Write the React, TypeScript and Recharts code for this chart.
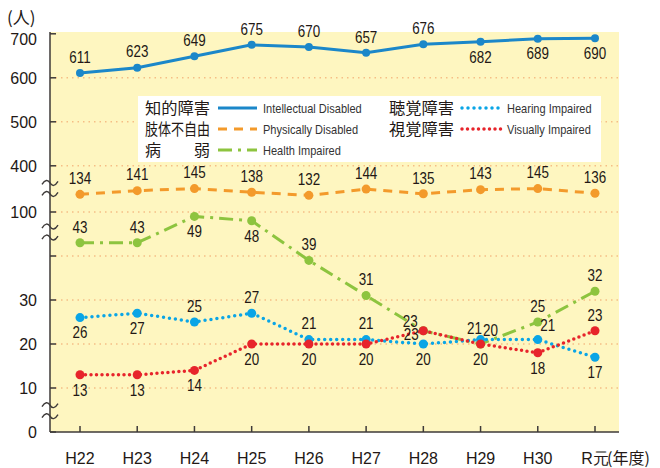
import React from 'react';
import { LineChart, Line, XAxis, YAxis, CartesianGrid, ReferenceLine } from 'recharts';

// ---- data ----
const years = ['H22', 'H23', 'H24', 'H25', 'H26', 'H27', 'H28', 'H29', 'H30', 'R元'];
const intellectual = [611, 623, 649, 675, 670, 657, 676, 682, 689, 690];
const physical = [134, 141, 145, 138, 132, 144, 135, 143, 145, 136];
const health = [43, 43, 49, 48, 39, 31, 23, 20, 25, 32];
const hearing = [26, 27, 25, 27, 21, 21, 20, 21, 21, 17];
const visual = [13, 13, 14, 20, 20, 20, 23, 20, 18, 23];

const lowTicks = [0, 10, 20, 30, 40];
const lowTickLabels = ['0', '10', '20', '30', ''];
const physTicks = [100];
const topTicks = [400, 500, 600, 700];
const yUnit = '(人)';
const xUnit = '(年度)';

const legendItems = [
  { key: 'intellectual', jp: '知的障害', en: 'Intellectual Disabled' },
  { key: 'physical', jp: '肢体不自由', en: 'Physically Disabled' },
  { key: 'health', jp: '病弱', en: 'Health Impaired' },
  { key: 'hearing', jp: '聴覚障害', en: 'Hearing Impaired' },
  { key: 'visual', jp: '視覚障害', en: 'Visually Impaired' },
];

// ---- styles / layout ----
const STYLE: Record<string, any> = {
  intellectual: { color: '#1B87C9', dash: undefined, width: 3, cap: 'butt', r: 4 },
  physical: { color: '#F39A2B', dash: '9 7', width: 3, cap: 'butt', r: 4.5 },
  health: { color: '#8DC43F', dash: '14 6 3 6', width: 3, cap: 'butt', r: 4.5 },
  hearing: { color: '#0AA5E6', dash: '0 6', width: 3.5, cap: 'round', r: 4.5 },
  visual: { color: '#E7242B', dash: '0 5.5', width: 3.5, cap: 'round', r: 4.5 },
};

const labelPos: Record<string, string[]> = {
  intellectual: ['t', 't', 't', 't', 't', 't', 't', 'b', 'b', 'b'],
  physical: ['t', 't', 't', 't', 't', 't', 't', 't', 't', 't'],
  health: ['t', 't', 'b', 'b', 't', 't', 'tl', 'tr', 't', 't'],
  hearing: ['b', 'b', 't', 't', 't', 't', 'b', 'tl2', 'tr', 'b'],
  visual: ['b', 'b', 'b', 'b', 'b', 'b', 'l', 'b', 'b', 't'],
};
const OFFSETS: Record<string, [number, number]> = {
  t: [0, -16],
  b: [0, 15],
  tl: [-13, -10],
  tl2: [-6, -11],
  tr: [10, -14],
  l: [-12, 3],
};

const W = 660;
const H = 468;
const PLOT_H = 400; // 32..432
const PX_PER_UNIT = 4.4; // low scale, px per unit
const LOW_MAX = PLOT_H / PX_PER_UNIT;
const TOP_ANCHOR = 60.5; // low-units position of 400 on top band
const PHYS_K = 0.52 / PX_PER_UNIT;
const topToLow = (v: number) => (v - 400) / 10 + TOP_ANCHOR;
const lowToTop = (l: number) => (l - TOP_ANCHOR) * 10 + 400;
const physToLow = (v: number) => 50 + (v - 100) * PHYS_K;
const lowToPhys = (l: number) => 100 + (l - 50) / PHYS_K;

const tickPos = [...lowTicks, ...physTicks.map(physToLow), ...topTicks.map(topToLow)];
const tickLab = [...lowTickLabels, ...physTicks.map(String), ...topTicks.map(String)];
const gridVals = tickPos.filter((p) => p > 0 && p < LOW_MAX - 1);
const breakVals = [55.35, 45.45, 4.85];

const rows = years.map((year, i) => ({
  year,
  intellectual: intellectual[i],
  physical: physical[i],
  health: health[i],
  hearing: hearing[i],
  visual: visual[i],
}));

const NUM_FONT = "'Liberation Sans', Arial, sans-serif";
const AX_FONT = "'Liberation Sans', Arial, sans-serif";
const JP_FONT = "'Noto Sans CJK JP', 'Noto Sans', sans-serif";
const TXT = '#231815';
const AXIS = '#3E3A39';

const NarrowText = ({ x, y, size, sx, anchor, fill, children }: any) => (
  <text
    transform={`translate(${x},${y}) scale(${sx},1)`}
    textAnchor={anchor}
    fontSize={size}
    fontFamily={NUM_FONT}
    fill={fill}
  >
    {children}
  </text>
);

const makeDot = (key: string) => (props: any) => {
  const { cx, cy, index, payload } = props;
  if (cx == null || cy == null) return <g key={`${key}-${index}`} />;
  const s = STYLE[key];
  const [dx, dy] = OFFSETS[labelPos[key][index]];
  return (
    <g key={`${key}-${index}`}>
      <circle cx={cx} cy={cy} r={s.r} fill={s.color} />
      <NarrowText x={cx + dx} y={cy + dy + 5.8} size={16} sx={0.84} anchor="middle" fill={TXT}>
        {payload[key]}
      </NarrowText>
    </g>
  );
};

const YTick = (props: any) => {
  const { x, y, payload } = props;
  const i = tickPos.findIndex((p) => Math.abs(p - payload.value) < 1e-6);
  const label = i >= 0 ? tickLab[i] : '';
  const nudge = i === tickPos.length - 1 ? 5 : 0;
  return (
    <g>
      <line x1={x} x2={x + 6} y1={y} y2={y} stroke={AXIS} strokeWidth={1.5} />
      <text x={x - 13} y={y + 5.8 + nudge} textAnchor="end" fontSize={16} fontFamily={AX_FONT} fill={TXT}>
        {label}
      </text>
    </g>
  );
};

const XTick = (props: any) => {
  const { x, y, payload, index } = props;
  const last = index === years.length - 1 || payload.value === years[years.length - 1];
  return (
    <g>
      <line x1={x} x2={x} y1={y} y2={y - 6} stroke={AXIS} strokeWidth={1.5} />
      <text x={x} y={y + 32} textAnchor="middle" fontSize={16} fontFamily={`${AX_FONT}`} fill={TXT}>
        {payload.value}
      </text>
      {last ? (
        <text x={x + 12} y={y + 32} textAnchor="start" fontSize={16} fontFamily={JP_FONT} fill={TXT}>
          {xUnit}
        </text>
      ) : null}
    </g>
  );
};

const BreakShape = (props: any) => {
  const { x1, y1 } = props;
  if (x1 == null || y1 == null) return <g />;
  const tilde = (yy: number) =>
    `M ${x1 - 8} ${yy + 1.5} C ${x1 - 5} ${yy - 3.5} ${x1 - 2} ${yy - 3.5} ${x1} ${yy} S ${x1 + 5} ${yy + 3.5} ${x1 + 8} ${yy - 1.5}`;
  return (
    <g>
      <path d={tilde(y1 - 5.5)} stroke={AXIS} strokeWidth={1.4} fill="none" />
      <path d={tilde(y1 + 5.5)} stroke={AXIS} strokeWidth={1.4} fill="none" />
    </g>
  );
};

const LegendSample = ({ k, x, y, w }: { k: string; x: number; y: number; w: number }) => {
  const s = STYLE[k];
  return (
    <line
      x1={x}
      x2={x + w}
      y1={y}
      y2={y}
      stroke={s.color}
      strokeWidth={s.width}
      strokeDasharray={s.dash}
      strokeLinecap={s.cap}
    />
  );
};

const Legend = () => {
  const cols = [145, 389];
  const rowsY = [108, 129, 150];
  return (
    <g>
      <rect x={138} y={96} width={463} height={66} fill="#FFFFFF" />
      {legendItems.map((it, i) => {
        const c = i < 3 ? 0 : 1;
        const r = i < 3 ? i : i - 3;
        const x = cols[c];
        const y = rowsY[r];
        const jp =
          it.jp.length === 2 ? (
            <g>
              <text x={x} y={y + 6} fontSize={16} fontFamily={JP_FONT} fill={TXT}>
                {it.jp[0]}
              </text>
              <text x={x + 65} y={y + 6} textAnchor="end" fontSize={16} fontFamily={JP_FONT} fill={TXT}>
                {it.jp[1]}
              </text>
            </g>
          ) : (
            <text
              x={x}
              y={y + 6}
              fontSize={16}
              fontFamily={JP_FONT}
              fill={TXT}
              textLength={65}
              lengthAdjust="spacingAndGlyphs"
            >
              {it.jp}
            </text>
          );
        return (
          <g key={it.key}>
            {jp}
            <LegendSample k={it.key} x={x + 73} y={y} w={c === 0 ? 39 : 42} />
            <NarrowText x={x + 118} y={y + 4.5} size={13} sx={0.85} anchor="start" fill="#333">
              {it.en}
            </NarrowText>
          </g>
        );
      })}
    </g>
  );
};

const seriesOrder = ['physical', 'intellectual', 'health', 'hearing', 'visual'];
const axisFor: Record<string, string> = {
  intellectual: 'top',
  physical: 'phys',
  health: 'low',
  hearing: 'low',
  visual: 'low',
};

export default function App() {
  return (
    <div style={{ position: 'absolute', left: 0, top: 0, width: W, height: H, background: '#fff' }}>
      <LineChart width={W} height={H} data={rows} margin={{ top: 32, right: 41, bottom: 0, left: 0 }}>
        <CartesianGrid horizontal={false} vertical={false} fill="#FEF6C0" yAxisId="low" />
        <XAxis
          dataKey="year"
          scale="point"
          padding={{ left: 30, right: 24 }}
          interval={0}
          tickSize={0}
          tickMargin={0}
          height={36}
          tick={<XTick />}
          tickLine={false}
          axisLine={{ stroke: AXIS, strokeWidth: 1.5 }}
        />
        <YAxis
          yAxisId="low"
          type="number"
          domain={[0, LOW_MAX]}
          ticks={tickPos}
          interval={0}
          width={50}
          tickSize={0}
          tickMargin={0}
          tick={<YTick />}
          tickLine={false}
          axisLine={{ stroke: AXIS, strokeWidth: 1.5 }}
        />
        <YAxis yAxisId="top" hide type="number" domain={[lowToTop(0), lowToTop(LOW_MAX)]} />
        <YAxis yAxisId="phys" hide type="number" domain={[lowToPhys(0), lowToPhys(LOW_MAX)]} />
        {gridVals.map((g) => (
          <ReferenceLine
            key={`g${g}`}
            yAxisId="low"
            y={g}
            stroke="#F5BE85"
            strokeWidth={1.5}
            strokeDasharray="1.5 4"
          />
        ))}
        {breakVals.map((b) => (
          <ReferenceLine key={`b${b}`} yAxisId="low" y={b} stroke="none" shape={<BreakShape />} />
        ))}
        {seriesOrder.map((k) => {
          const s = STYLE[k];
          return (
            <Line
              key={k}
              yAxisId={axisFor[k]}
              type="linear"
              dataKey={k}
              stroke={s.color}
              strokeWidth={s.width}
              strokeDasharray={s.dash}
              strokeLinecap={s.cap}
              dot={makeDot(k)}
              activeDot={false}
              isAnimationActive={false}
            />
          );
        })}
      </LineChart>
      <svg width={W} height={H} style={{ position: 'absolute', left: 0, top: 0, pointerEvents: 'none' }}>
        <text x={7} y={24} fontSize={17} fontFamily={JP_FONT} fill={TXT}>
          {yUnit}
        </text>
        <Legend />
      </svg>
    </div>
  );
}
